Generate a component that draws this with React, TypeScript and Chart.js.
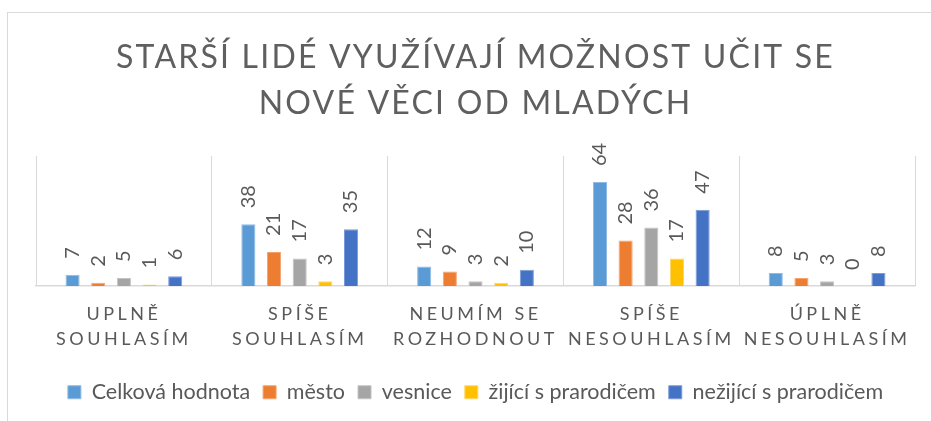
import React, { useEffect, useRef } from "react";
import { Chart, registerables } from "chart.js";

Chart.register(...registerables);

const TITLE_LINES = ["STARŠÍ LIDÉ VYUŽÍVAJÍ MOŽNOST UČIT SE", "NOVÉ VĚCI OD MLADÝCH"];
const CATEGORIES = [
  ["UPLNĚ", "SOUHLASÍM"],
  ["SPÍŠE", "SOUHLASÍM"],
  ["NEUMÍM SE", "ROZHODNOUT"],
  ["SPÍŠE", "NESOUHLASÍM"],
  ["ÚPLNĚ", "NESOUHLASÍM"],
];
const SERIES_NAMES = [
  "Celková hodnota",
  "město",
  "vesnice",
  "žijící s prarodičem",
  "nežijící s prarodičem",
];
const CELKOVA = [7, 38, 12, 64, 8];
const MESTO = [2, 21, 9, 28, 5];
const VESNICE = [5, 17, 3, 36, 3];
const ZIJICI = [1, 3, 2, 17, 0];
const NEZIJICI = [6, 35, 10, 47, 8];
const SERIES_VALUES = [CELKOVA, MESTO, VESNICE, ZIJICI, NEZIJICI];
const COLORS = ["#5B9BD5", "#ED7D31", "#A5A5A5", "#FFC000", "#4472C4"];
const BORDERS = ["#8DBBE6", "#F4A572", "#C4C4C4", "#FFD766", "#7C9BD8"];
const Y_MAX = 80;

const TEXT_COLOR = "#595959";
const FONT = "Lato, 'Open Sans', sans-serif";

const spacingPlugin = {
  id: "spacing",
  beforeDraw(chart: any) {
    const sx = chart.scales.x;
    if (sx && !sx.__patched) {
      const orig = sx.drawLabels.bind(sx);
      sx.drawLabels = (area: any) => {
        const ctx = chart.ctx;
        ctx.save();
        (ctx as any).letterSpacing = "3.5px";
        orig(area);
        ctx.restore();
      };
      sx.__patched = true;
    }
    const tb = chart.titleBlock;
    if (tb && !tb.__patched) {
      const origT = tb.draw.bind(tb);
      tb.draw = (area: any) => {
        const ctx = chart.ctx;
        ctx.save();
        (ctx as any).letterSpacing = "2.2px";
        origT(area);
        ctx.restore();
      };
      tb.__patched = true;
    }
  },
};

const labelPlugin = {
  id: "barLabels",
  afterDatasetsDraw(chart: any) {
    const ctx = chart.ctx;
    ctx.save();
    ctx.fillStyle = TEXT_COLOR;
    ctx.font = `20px ${FONT}`;
    ctx.textAlign = "left";
    ctx.textBaseline = "middle";
    chart.data.datasets.forEach((ds: any, i: number) => {
      const meta = chart.getDatasetMeta(i);
      meta.data.forEach((el: any, j: number) => {
        ctx.save();
        ctx.translate(el.x, el.y - 16);
        ctx.rotate(-Math.PI / 2);
        ctx.fillText(String(ds.data[j]), 0, 0);
        ctx.restore();
      });
    });
    ctx.restore();
  },
};

export default function App() {
  const ref = useRef<HTMLCanvasElement>(null);
  useEffect(() => {
    if (!ref.current) return;
    const chart = new Chart(ref.current, {
      type: "bar",
      data: {
        labels: CATEGORIES,
        datasets: SERIES_NAMES.map((name, i) => ({
          label: name,
          data: SERIES_VALUES[i],
          backgroundColor: COLORS[i],
          borderColor: BORDERS[i],
          borderWidth: 1,
          categoryPercentage: 0.73,
          barPercentage: 0.55,
        })),
      },
      options: {
        animation: false,
        responsive: false,
        maintainAspectRatio: false,
        layout: { padding: { left: 36, right: 16, top: 0, bottom: 8 } },
        plugins: {
          title: {
            display: true,
            text: TITLE_LINES,
            color: "#5f5f5f",
            font: { family: FONT, size: 32, weight: "normal", lineHeight: 46 / 32 },
            padding: { top: 34.5, bottom: 29.5 },
          },
          legend: {
            display: true,
            position: "bottom",
            labels: {
              color: TEXT_COLOR,
              font: { family: FONT, size: 21.5 },
              boxWidth: 13,
              boxHeight: 13,
              padding: 13,
            },
          },
          tooltip: { enabled: false },
        },
        scales: {
          x: {
            grid: {
              display: true,
              offset: true,
              color: "#d9d9d9",
              lineWidth: 1,
              drawTicks: false,
            },
            border: { display: true, color: "#d9d9d9", width: 1.5 },
            ticks: {
              color: TEXT_COLOR,
              font: { family: FONT, size: 18, lineHeight: 25 / 18 },
              padding: 15.5,
              autoSkip: false,
              maxRotation: 0,
              minRotation: 0,
            },
            afterFit: (scale: any) => {
              scale.height = 82.5;
            },
          },
          y: {
            display: false,
            min: 0,
            max: Y_MAX,
          },
        },
      },
      plugins: [spacingPlugin, labelPlugin],
    });
    return () => chart.destroy();
  }, []);

  return (
    <div style={{ position: "fixed", left: 0, top: 0, width: 931, height: 421, background: "#fff" }}>
      <div
        style={{
          position: "absolute",
          left: 7,
          top: 12,
          width: 940,
          height: 420,
          borderTop: "1px solid #d9d9d9",
          borderLeft: "1px solid #d9d9d9",
        }}
      />
      <canvas ref={ref} width={931} height={421} style={{ position: "absolute", left: 0, top: 0 }} />
    </div>
  );
}
